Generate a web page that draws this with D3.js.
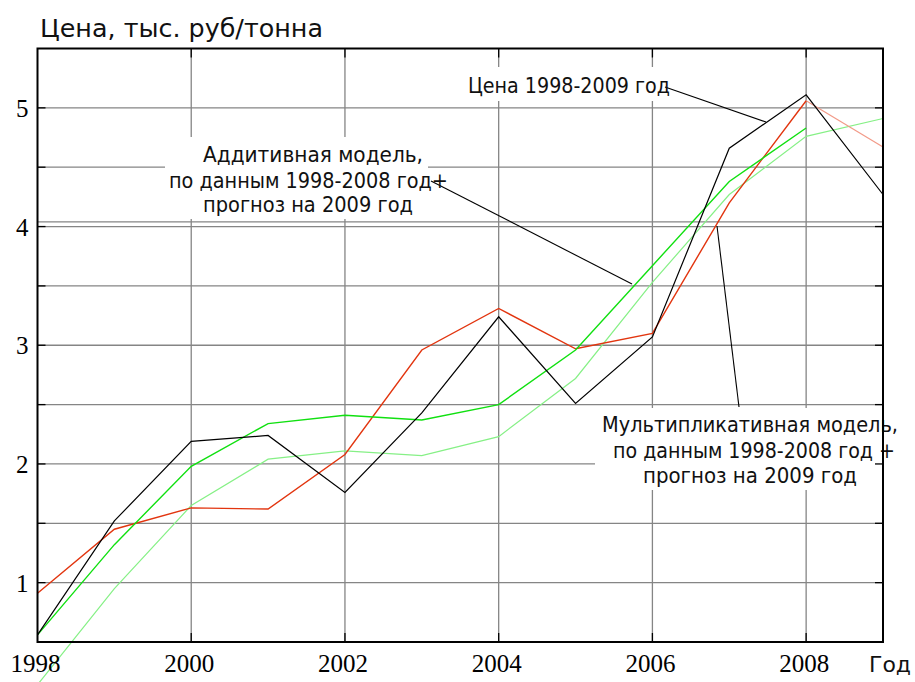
<!DOCTYPE html>
<html><head><meta charset="utf-8">
<script src="https://cdn.jsdelivr.net/npm/d3@7"></script>
<style>body{margin:0;background:#fff}svg{display:block}</style>
</head><body>
<svg id="c" width="915" height="682"></svg>
<script>
// ---- data ----
const years = [1998,1999,2000,2001,2002,2003,2004,2005,2006,2007,2008,2009];
const price = [0.56,1.52,2.19,2.24,1.76,2.43,3.24,2.51,3.07,4.66,5.11,4.27];          // black
const additive = [0.56,1.32,1.98,2.34,2.41,2.37,2.50,2.96,3.67,4.38,4.83];            // bright green, 1998-2008
const redModel = [0.91,1.45,1.63,1.62,2.08,2.96,3.31,2.97,3.10,4.20,5.06];            // red, 1998-2008
const redForecast = [5.06,4.67];                                                        // 2008-2009
const lightGreen = [0.14,0.95,1.65,2.04,2.11,2.07,2.23,2.72,3.53,4.27,4.76,4.91];     // light green
const xTickYears = [1998,2000,2002,2004,2006,2008];
const yTickLabels = [1,2,3,4,5];
const yGrid = [1,1.5,2,2.5,3,3.5,4,4.5,5];
const extraGrid = [4.04];

const svg = d3.select("#c");
const L=37.5, R=883, T=48.5, B=642;
const x = d3.scaleLinear().domain([1998,2009]).range([L,R]);
const y = d3.scaleLinear().domain([0.5,5.5]).range([B,T]);

// grid
const g = svg.append("g");
g.selectAll(".vg").data(xTickYears.slice(1)).enter().append("line")
  .attr("x1",d=>x(d)).attr("x2",d=>x(d)).attr("y1",T).attr("y2",B)
  .attr("stroke","#858585").attr("stroke-width",1.3);
g.selectAll(".hg").data(yGrid.concat(extraGrid)).enter().append("line")
  .attr("x1",L).attr("x2",R).attr("y1",d=>y(d)).attr("y2",d=>y(d))
  .attr("stroke","#858585").attr("stroke-width",1.3);

// white label boxes over grid
const boxes = [[462,67,676,101],[165,137,428,219],[595,408,884,490]];
svg.selectAll(".bx").data(boxes).enter().append("rect")
  .attr("x",d=>d[0]).attr("y",d=>d[1]).attr("width",d=>d[2]-d[0]).attr("height",d=>d[3]-d[1])
  .attr("fill","#fff");

// lines
const line = d3.line().x(d=>x(d[0])).y(d=>y(d[1]));
function draw(vals, yrs, color, w){
  svg.append("path").datum(yrs.map((yr,i)=>[yr,vals[i]]))
    .attr("d",line).attr("fill","none").attr("stroke",color).attr("stroke-width",w)
    .attr("stroke-linejoin","miter");
}
draw(lightGreen, years, "#86f086", 1.2);
draw(redForecast, [2008,2009], "#f29a88", 1.2);
draw(redModel, years.slice(0,11), "#e2350f", 1.4);
draw(additive, years.slice(0,11), "#10e010", 1.4);
draw(price, years, "#000", 1.2);

// pointer lines
const pointers = [[665,87,766,122],[431,181,632,284],[717,226,739,407]];
svg.selectAll(".pt").data(pointers).enter().append("line")
  .attr("x1",d=>d[0]).attr("y1",d=>d[1]).attr("x2",d=>d[2]).attr("y2",d=>d[3])
  .attr("stroke","#000").attr("stroke-width",1.1);

// annotation texts
const sans = "'DejaVu Sans', sans-serif";
const texts = [
  ["Цена, тыс. руб/тонна",40,323,37,24],
  ["Цена 1998-2009 год",468,670,93,21],
  ["Аддитивная модель,",203,423,162,21],
  ["по данным 1998-2008 год+",169,448,188,21],
  ["прогноз на 2009 год",203,413,212,21],
  ["Мультипликативная модель,",602,898,432,21],
  ["по данным 1998-2008 год +",613,895,458,21],
  ["прогноз на 2009 год",643,857,483,21],
  ["Год",869,911,672,22]
];
svg.selectAll(".tx").data(texts).enter().append("text")
  .attr("x",d=>d[1]).attr("y",d=>d[3]).text(d=>d[0])
  .attr("font-family",sans).attr("font-size",d=>d[4]).attr("fill","#111")
  .attr("textLength",d=>d[2]-d[1]).attr("lengthAdjust","spacingAndGlyphs");

// frame
svg.append("rect").attr("x",L).attr("y",T).attr("width",R-L).attr("height",B-T)
  .attr("fill","none").attr("stroke","#000").attr("stroke-width",2);

// ticks
const tk = svg.append("g").attr("stroke","#000").attr("stroke-width",1.3);
yGrid.forEach(v=>{
  tk.append("line").attr("x1",L).attr("x2",L+8).attr("y1",y(v)).attr("y2",y(v));
  tk.append("line").attr("x1",R).attr("x2",R-8).attr("y1",y(v)).attr("y2",y(v));
});
xTickYears.slice(1).forEach(v=>{
  tk.append("line").attr("x1",x(v)).attr("x2",x(v)).attr("y1",B).attr("y2",B-9);
  tk.append("line").attr("x1",x(v)).attr("x2",x(v)).attr("y1",T).attr("y2",T+9);
});

// tick labels
const serif = "'Liberation Serif','Times New Roman',serif";
svg.selectAll(".yl").data(yTickLabels).enter().append("text")
  .attr("x",L-9).attr("y",d=>y(d)+9).attr("text-anchor","end")
  .attr("font-family",serif).attr("font-size",25).attr("fill","#000").text(d=>d);
svg.selectAll(".xl").data(xTickYears).enter().append("text")
  .attr("x",d=>x(d)-2).attr("y",672).attr("text-anchor","middle")
  .attr("font-family",serif).attr("font-size",25).attr("fill","#000").text(d=>d);
</script>
</body></html>
